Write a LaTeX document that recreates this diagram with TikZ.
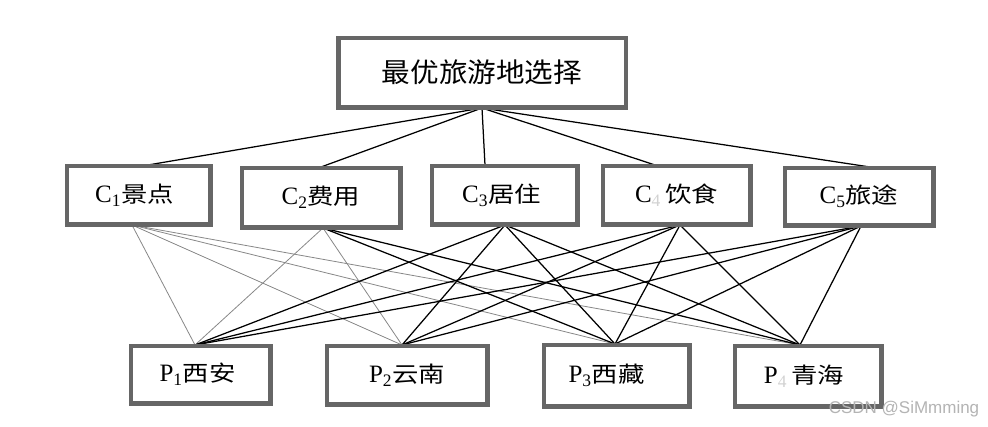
\documentclass[tikz,border=0pt]{standalone}
\usepackage{fontspec}
\setmainfont{Liberation Serif}
\newfontfamily\cjk{Noto Sans CJK SC}
\newfontfamily\wmfont{Liberation Sans}
\usetikzlibrary{calc}
\definecolor{boxgray}{HTML}{666666}
\definecolor{thingray}{HTML}{888888}
\definecolor{wmgray}{HTML}{B4B4B4}
\newcommand\zh[1]{\scalebox{1.2}[1]{\fontsize{22}{22}\selectfont\cjk #1}}
\newcommand\lbl[3]{#1\textsubscript{#2}\zh{#3}}
\tikzset{
  box/.style={draw=boxgray, line width=3pt, fill=white, inner sep=0pt,
    font=\fontsize{25}{25}\selectfont},
  link/.style={line width=1.25pt, black},
  faint/.style={line width=0.8pt, thingray},
}
\begin{document}
\begin{tikzpicture}[x=1pt,y=-1pt]
\useasboundingbox[fill=white] (0,0) rectangle (988,426);
% top
\node[box, minimum width=286pt, minimum height=68pt,
  font=\fontsize{27}{27}\selectfont] (goal) at (482,72.5) {\scalebox{1.06}[1]{\cjk 最优旅游地选择}};
% criteria
\node[box, minimum width=142pt, minimum height=57pt] (c1) at (138.5,195) {\hspace*{-8pt}\lbl{C}{1}{景点}};
\node[box, minimum width=157pt, minimum height=58pt] (c2) at (321,197.5) {\lbl{C}{2}{费用}};
\node[box, minimum width=144pt, minimum height=57pt] (c3) at (504.5,195) {\hspace*{-6pt}\lbl{C}{3}{居住}};
\node[box, minimum width=146pt, minimum height=57pt] (c4) at (676.5,195) {C\textsubscript{\textcolor{gray!35}{4}}\,\zh{饮食}};
\node[box, minimum width=147pt, minimum height=56pt] (c5) at (859,196.5) {\lbl{C}{5}{旅途}};
% places
\node[box, minimum width=138pt, minimum height=56pt] (p1) at (200.5,374.5) {\hspace*{-6pt}\lbl{P}{1}{西安}};
\node[box, minimum width=159pt, minimum height=57pt] (p2) at (407,375) {\lbl{P}{2}{云南}};
\node[box, minimum width=144pt, minimum height=60pt] (p3) at (616.5,375.5) {\hspace*{-20pt}\lbl{P}{3}{西藏}};
\node[box, minimum width=145pt, minimum height=59pt] (p4) at (808,376) {\hspace*{-8pt}P\textsubscript{\textcolor{gray!35}{4}}\,\zh{青海}};
% anchor points
\coordinate (gb) at (goal.south);
\coordinate (c1t) at ($(c1.north)+(9.5,0)$);
\coordinate (c2t) at ($(c2.north)+(0,0)$);
\coordinate (c3t) at ($(c3.north)+(-19.5,0)$);
\coordinate (c4t) at ($(c4.north)+(-21.5,0)$);
\coordinate (c5t) at ($(c5.north)+(11,0)$);
\coordinate (c1b) at ($(c1.south)+(-6.5,0)$);
\coordinate (c2b) at ($(c2.south)+(2,0)$);
\coordinate (c3b) at ($(c3.south)+(0.5,0)$);
\coordinate (c4b) at ($(c4.south)+(3.5,0)$);
\coordinate (c5b) at ($(c5.south)+(2,0)$);
\coordinate (p1t) at ($(p1.north)+(-5.5,0)$);
\coordinate (p2t) at ($(p2.north)+(-5,0)$);
\coordinate (p3t) at ($(p3.north)+(-1.5,0)$);
\coordinate (p4t) at ($(p4.north)+(-8,0)$);
% goal to criteria
\foreach \c in {c1t,c2t,c3t,c4t,c5t} \draw[link] (gb) -- (\c);
% criteria to places
\foreach \p in {p1t,p2t,p3t,p4t} \draw[faint] (c1b) -- (\p);
\draw[faint] (c2b) -- (p1t);
\draw[faint] (c2b) -- (p2t);
\draw[link] (c2b) -- (p3t);
\draw[link] (c2b) -- (p4t);
\foreach \c in {c3b,c4b,c5b}
  \foreach \p in {p1t,p2t,p3t,p4t} \draw[link] (\c) -- (\p);
% redraw box borders on top of line ends
\foreach \n in {goal,c1,c2,c3,c4,c5,p1,p2,p3,p4}
  \draw[boxgray, line width=3pt] (\n.north west) rectangle (\n.south east);
% watermark
\node[text=wmgray, font=\wmfont\fontsize{17}{17}\selectfont, inner sep=0pt] (wm) at (904,409) {CSDN @SiMmming};
\end{tikzpicture}
\end{document}
